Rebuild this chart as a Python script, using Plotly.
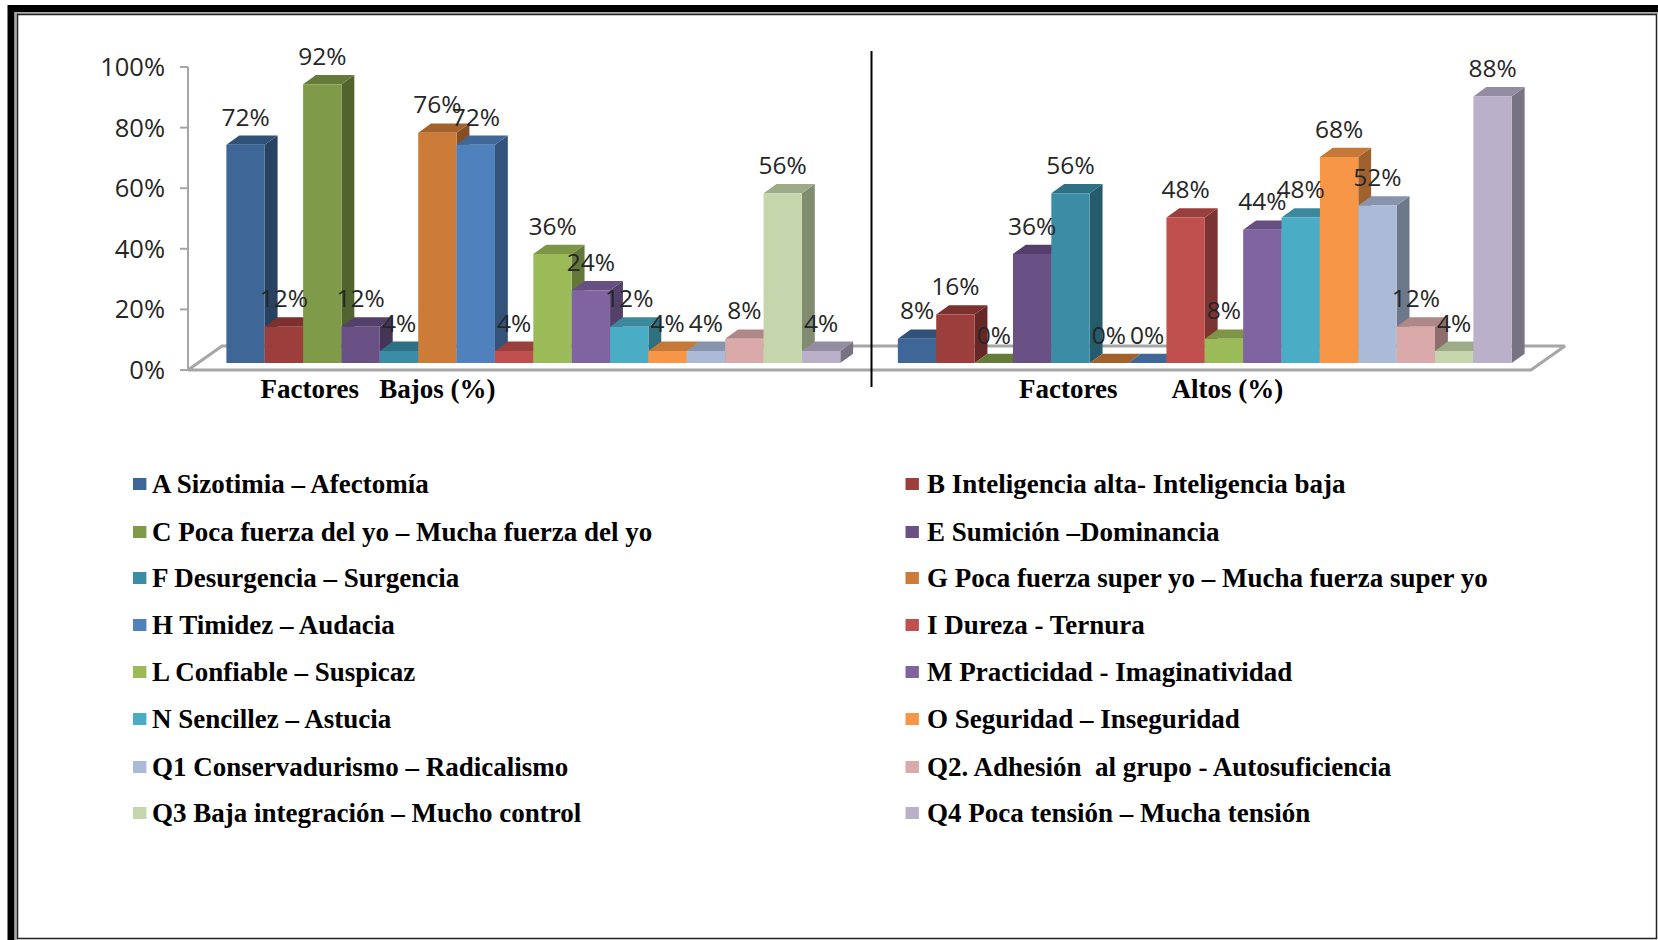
import plotly.graph_objects as go

factores = ["A Sizotimia – Afectomía", "B Inteligencia alta- Inteligencia baja",
            "C Poca fuerza del yo – Mucha fuerza del yo", "E Sumición –Dominancia",
            "F Desurgencia – Surgencia", "G Poca fuerza super yo – Mucha fuerza super yo",
            "H Timidez – Audacia", "I Dureza - Ternura",
            "L Confiable – Suspicaz", "M Practicidad - Imaginatividad",
            "N Sencillez – Astucia", "O Seguridad – Inseguridad",
            "Q1 Conservadurismo – Radicalismo", "Q2. Adhesión  al grupo - Autosuficiencia",
            "Q3 Baja integración – Mucho control", "Q4 Poca tensión – Mucha tensión"]
bajos = [72, 12, 92, 12, 4, 76, 72, 4, 36, 24, 12, 4, 4, 8, 56, 4]
altos = [8, 16, 0, 36, 56, 0, 0, 48, 8, 44, 48, 68, 52, 12, 4, 88]
colores = ["#3E6797", "#9C3E3B", "#7F9A48", "#695185", "#3B8DA5", "#CC7B38", "#4F81BD", "#C0504D",
           "#9BBB59", "#8064A2", "#4BACC6", "#F79646", "#AABAD7", "#D9AAA9", "#C6D6AC", "#BAB0C9"]
grupos = ["Factores\u00a0\u00a0\u00a0Bajos (%)", "Factores\u00a0\u00a0\u00a0\u00a0\u00a0\u00a0\u00a0\u00a0Altos (%)"]
y_ticks = [0, 20, 40, 60, 80, 100]

# plot area in page pixels, a bit bigger than the drawn chart so nothing gets clipped
W, H = 1658, 940
LEFT, RIGHT, TOP, BOTTOM = 176, 1570, 30, 373
X0_PX, Y0_PX = 188, 370  # where x=0, y=0 fall
BAR_PX, PCT_PX = 38.37, 3.03

# fake 3D: how far the bars sit back on the floor and how deep they are (axis units)
BASE = 2.3
DX, DY = 0.335, 3.07
LABEL_UP = 8.4
FLOOR_X, FLOOR_Y, FLOOR_END = 0.886, 7.9, 35
inicio_bajos, inicio_altos = 1.0, 18.5
GRIS = "#A6A6A6"


def shade(color, f):
    r, g, b = int(color[1:3], 16), int(color[3:5], 16), int(color[5:7], 16)
    return "rgb(%d,%d,%d)" % (r * f, g * f, b * f)


def px(x):
    return (x - LEFT) / (RIGHT - LEFT)


def py(y):
    return (BOTTOM - y) / (BOTTOM - TOP)


fig = go.Figure()

# floor outline behind the bars
fig.add_trace(go.Scatter(x=[0, FLOOR_X, FLOOR_END + FLOOR_X, FLOOR_END, 0], y=[0, FLOOR_Y, FLOOR_Y, 0, 0], mode="lines",
                         line=dict(color=GRIS, width=3), zorder=0, hoverinfo="skip", showlegend=False))

# value axis line with its tick marks
eje_x, eje_y = [0, 0, None], [0, 100, None]
for t in y_ticks:
    eje_x += [-0.21, 0, None]
    eje_y += [t, t, None]
fig.add_trace(go.Scatter(x=eje_x, y=eje_y, mode="lines", line=dict(color=GRIS, width=2), zorder=0,
                         hoverinfo="skip", showlegend=False))

label_x, label_y, label_text = [], [], []
for i, name in enumerate(factores):
    xs = [inicio_bajos + i, inicio_altos + i]
    vals = [bajos[i], altos[i]]
    side_x, side_y, top_x, top_y = [], [], [], []
    for x0, v in zip(xs, vals):
        x1 = x0 + 1
        t = BASE + v
        side_x += [x1, x1 + DX, x1 + DX, x1, x1, None]
        side_y += [BASE, BASE + DY, t + DY, t, BASE, None]
        top_x += [x0, x0 + DX, x1 + DX, x1, x0, None]
        top_y += [t, t + DY, t + DY, t, t, None]
        label_x.append(x0 + 0.5)
        label_y.append(t + LABEL_UP)
        label_text.append("%d%%" % v)
    fig.add_trace(go.Scatter(x=side_x, y=side_y, mode="lines", fill="toself", line=dict(width=0),
                             fillcolor=shade(colores[i], 0.65), zorder=3 * i + 1,
                             hoverinfo="skip", showlegend=False))
    fig.add_trace(go.Scatter(x=top_x, y=top_y, mode="lines", fill="toself", line=dict(width=0),
                             fillcolor=shade(colores[i], 0.8), zorder=3 * i + 2,
                             hoverinfo="skip", showlegend=False))
    fig.add_trace(go.Bar(x=[x + 0.5 for x in xs], y=vals, base=BASE, width=1, name=name,
                         marker=dict(color=colores[i], line=dict(width=0)),
                         zorder=3 * i + 3, showlegend=False))

fig.add_trace(go.Scatter(x=label_x, y=label_y, text=label_text, mode="text", textposition="middle center",
                         textfont=dict(family="Open Sans", size=24.5, color="#262626"),
                         zorder=100, hoverinfo="skip", showlegend=False))

shapes = [
    # frame
    dict(type="rect", xref="paper", yref="paper", x0=px(11), x1=px(1672), y0=py(8.5), y1=py(960),
         line=dict(color="black", width=7)),
    dict(type="rect", xref="paper", yref="paper", x0=px(15.8), x1=px(1660), y0=py(13), y1=py(950),
         line=dict(color="#AAAAAA", width=2)),
    dict(type="rect", xref="paper", yref="paper", x0=px(17.5), x1=px(1656.5), y0=py(14.5), y1=py(938.5),
         line=dict(color="#222222", width=1.5)),
    # divider between the two groups
    dict(type="line", xref="paper", yref="paper", x0=px(871.5), x1=px(871.5), y0=py(51), y1=py(387),
         line=dict(color="black", width=2)),
]

# legend, two columns
annotations = []
col_text = [150, 925]
col_box = [133, 905.5]
filas = [484, 532, 578, 625, 672, 719, 767, 813]
for i, name in enumerate(factores):
    col = i % 2
    yc = filas[i // 2]
    shapes.append(dict(type="rect", xref="paper", yref="paper", x0=px(col_box[col]), x1=px(col_box[col] + 13.4),
                       y0=py(yc - 6), y1=py(yc + 6), fillcolor=colores[i], line=dict(width=0)))
    annotations.append(dict(xref="paper", yref="paper", x=px(col_text[col]), y=py(yc), text=name.replace("  ", "\u00a0\u00a0"),
                            showarrow=False, xanchor="left", yanchor="middle",
                            font=dict(family="Liberation Serif", size=27, color="black", weight="bold")))

fig.update_layout(
    width=W, height=H, paper_bgcolor="white", plot_bgcolor="white", showlegend=False,
    margin=dict(l=LEFT, r=W - RIGHT, t=TOP, b=H - BOTTOM, pad=0),
    barmode="overlay", shapes=shapes, annotations=annotations,
    xaxis=dict(range=[(LEFT - X0_PX) / BAR_PX, (RIGHT - X0_PX) / BAR_PX], showgrid=False, zeroline=False, showline=False,
               ticks="", tickmode="array", tickvals=[4.95, 25.1], ticktext=grupos, ticklabelstandoff=-3,
               tickfont=dict(family="Liberation Serif", size=27, color="black", weight="bold")),
    yaxis=dict(range=[(Y0_PX - BOTTOM) / PCT_PX, (Y0_PX - TOP) / PCT_PX], showgrid=False, zeroline=False, showline=False,
               ticks="", tickmode="array", tickvals=y_ticks, ticktext=["%d%%" % t for t in y_ticks],
               ticklabelstandoff=10, tickfont=dict(family="Open Sans", size=25.5, color="#262626")),
)

fig.write_html("out.html", config={"displayModeBar": False},
               post_script="document.body.style.margin='0';document.body.style.overflow='hidden';")
